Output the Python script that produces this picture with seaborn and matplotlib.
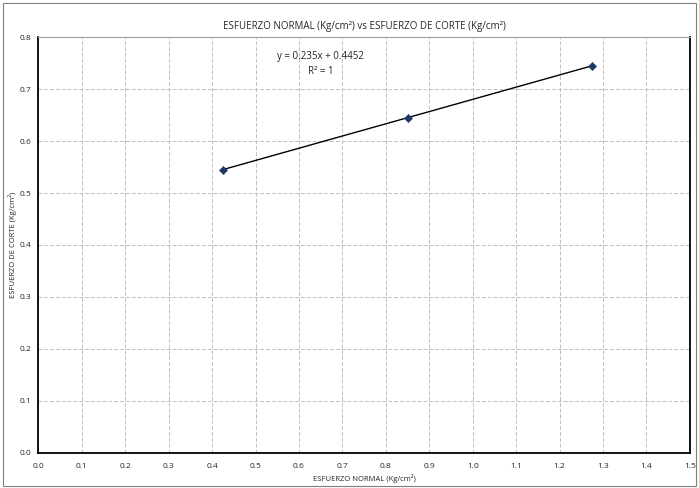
import numpy as np
import pandas as pd
import matplotlib
matplotlib.use("Agg")
import matplotlib.pyplot as plt
import seaborn as sns

# data
normal = [0.425, 0.85, 1.275]
corte = [0.545, 0.645, 0.745]
slope = 0.235
intercept = 0.4452
xticks = [round(0.1 * i, 1) for i in range(16)]
yticks = [round(0.1 * i, 1) for i in range(9)]

df = pd.DataFrame({"normal": normal, "corte": corte})
df["fit"] = slope * df["normal"] + intercept

sns.set_style("white")
plt.rcParams['font.family'] = ['Open Sans', 'DejaVu Sans']

fig = plt.figure(figsize=(6.99, 4.88), dpi=100)
ax = fig.add_axes([0.055, 0.072, 0.932, 0.852])

# trendline and points
sns.lineplot(x="normal", y="fit", data=df, color="black", linewidth=1.0, ax=ax)
sns.scatterplot(x="normal", y="corte", data=df, marker="D", s=18, color="#1f3864",
                edgecolor="#1f3864", zorder=5, ax=ax)

ax.set_xlim(0, 1.5)
ax.set_ylim(0, 0.8)
ax.set_xticks(xticks)
ax.set_yticks(yticks)
ax.set_xticklabels([f"{v:.1f}" for v in xticks], fontsize=6)
ax.set_yticklabels([f"{v:.1f}" for v in yticks], fontsize=6)
ax.tick_params(direction="inout", length=4, width=0.8, color="black", pad=3)
ax.tick_params(axis="x", pad=5)
ax.grid(True, linestyle=(0, (4, 2)), color="#bfbfbf", linewidth=0.7)

for s in ["left", "bottom", "right"]:
    ax.spines[s].set_color("black")
    ax.spines[s].set_linewidth(1.3)
ax.spines["top"].set_color("#a0a0a0")
ax.spines["top"].set_linewidth(0.8)

ax.set_title("ESFUERZO NORMAL (Kg/cm²) vs ESFUERZO DE CORTE (Kg/cm²)", fontsize=7, pad=6)
ax.set_xlabel("ESFUERZO NORMAL (Kg/cm²)", fontsize=5.5, labelpad=3)
ax.set_ylabel("ESFUERZO DE CORTE (Kg/cm²)", fontsize=5.5, labelpad=2)

ax.text(0.65, 0.762, "y = 0.235x + 0.4452", fontsize=7, ha="center", va="center")
ax.text(0.65, 0.733, "R² = 1", fontsize=7, ha="center", va="center")

# chart area border
fig.patches.append(plt.Rectangle((0.004, 0.004), 0.992, 0.99, transform=fig.transFigure,
                                 fill=False, edgecolor="#7f7f7f", linewidth=0.8))

fig.savefig("out.png", dpi=100)
